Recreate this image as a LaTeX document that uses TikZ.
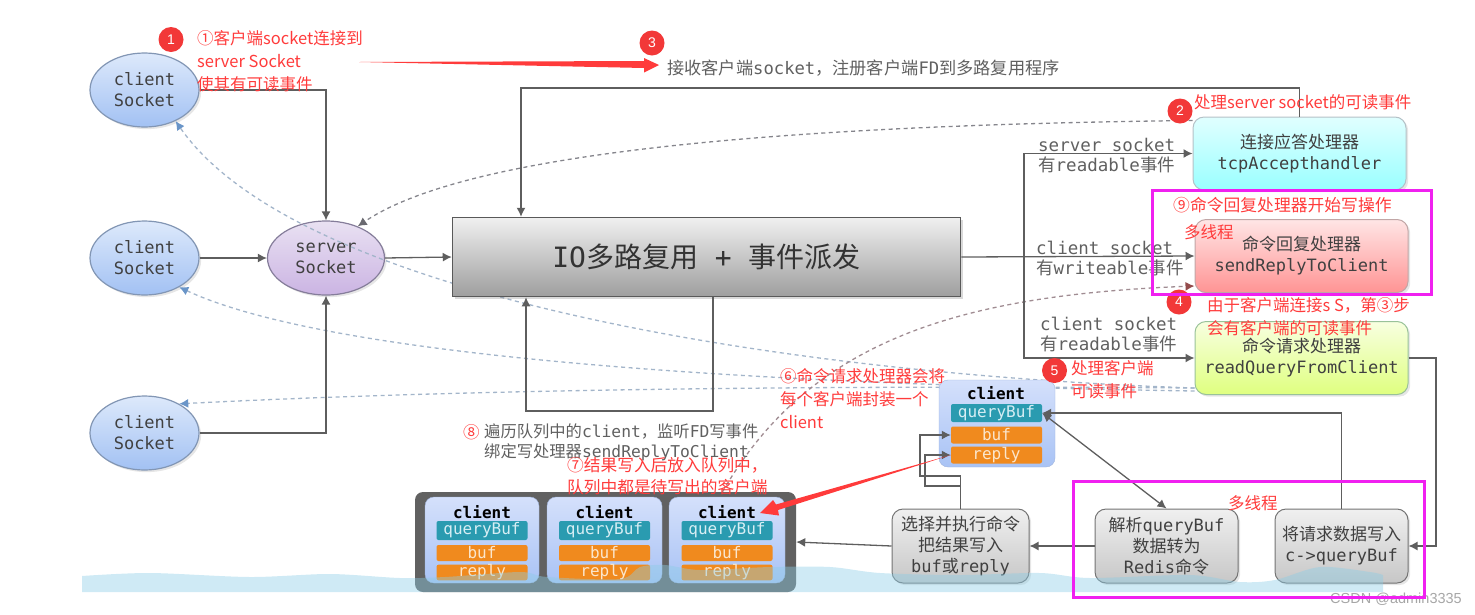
\documentclass[tikz,border=0pt]{standalone}
\usepackage{fontspec}
\usetikzlibrary{shapes.geometric,shadows,arrows.meta,calc}
\setmonofont{DejaVu Sans Mono}
\setsansfont{Liberation Sans}
\newfontfamily\cjk{Noto Sans CJK SC}
\definecolor{redc}{HTML}{FF3B3B}
\definecolor{linec}{HTML}{5E5E5E}
\definecolor{textc}{HTML}{606060}
\definecolor{magc}{HTML}{F020F0}
\definecolor{tealc}{HTML}{2A9BB0}
\definecolor{tealt}{HTML}{D6EEF4}
\definecolor{orgc}{HTML}{F08A1E}
\definecolor{orgt}{HTML}{FBE6CC}
\definecolor{dashb}{HTML}{A3B5CA}
\definecolor{tipb}{HTML}{6A95C8}
\definecolor{dashg}{HTML}{85858C}
\definecolor{dashm}{HTML}{A08C92}
\definecolor{waterc}{HTML}{8CCDE6}
\begin{document}
\begin{tikzpicture}[x=1pt,y=-1pt,>={Latex[length=9pt,width=9pt]}]
      \useasboundingbox(0,0) rectangle (1475,614);
      \tikzset{T/.style = {font=\ttfamily\fontsize{17}{21}\selectfont, align=center, text=black!75}}
      \tikzset{C/.style = {shape=ellipse, draw={rgb,255:red,130;green,150;blue,180}, top color={rgb,255:red,221;green,233;blue,251}, bottom color={rgb,255:red,162;green,193;blue,243}, line width=1.2pt, inner sep=0pt, minimum width=109pt, minimum height=74pt, drop shadow={opacity=0.2}, T}}
      \tikzset{S/.style = {C, draw={rgb,255:red,133;green,125;blue,154}, top color={rgb,255:red,233;green,225;blue,242}, bottom color={rgb,255:red,203;green,180;blue,227}, minimum width=117pt}}
      \tikzset{H/.style = {shape=rectangle, rounded corners=11pt, minimum width=213pt, minimum height=73pt, inner sep=0pt, line width=1pt, drop shadow={opacity=0.2}, T}}
      \tikzset{G/.style = {H, draw=black!55, top color=black!6, bottom color=black!22, minimum height=74pt}}
      \tikzset{B/.style = {shape=rectangle, rounded corners=2pt, inner sep=0pt, minimum height=17pt, minimum width=91pt, font=\ttfamily\fontsize{16}{18}\selectfont}}
      \tikzset{Q/.style = {B, fill=tealc, text=tealt}}
      \tikzset{O/.style = {B, fill=orgc, text=orgt}}
      \tikzset{K/.style = {shape=rectangle, rounded corners=9pt, inner sep=0pt, draw={rgb,255:red,160;green,180;blue,220}, top color={rgb,255:red,212;green,224;blue,251}, bottom color={rgb,255:red,169;green,195;blue,245}}}
      \tikzset{L/.style = {anchor=west, inner sep=0pt, align=left, text=textc, font=\ttfamily\fontsize{17.5}{20}\selectfont}}
      \tikzset{R/.style = {anchor=west, inner sep=0pt, align=left, text=redc, font=\cjk\fontsize{16.5}{23}\selectfont}}
      \tikzset{N/.style = {shape=circle, fill=redc!95!black, text=white, inner sep=0pt, minimum size=25pt, font=\sffamily\fontsize{14}{14}\selectfont}}
      \tikzset{E/.style = {draw=linec,line width=1.3pt,->}}
      \tikzset{D/.style = {draw=#1,line width=1.3pt,dash pattern=on 4pt off 3.5pt,->}}
      \tikzset{M/.style = {draw=magc,line width=3pt}}
      %% handlers
      \node[H,draw=cyan!30!black!35,top color=cyan!12,bottom color=cyan!40](acc) at (1299.5,153.5) {{\cjk 连接应答处理器}\\tcpAccepthandler};
      \node[H,draw=red!30!black!35,top color=red!10,bottom color=red!42](rep) at (1301.5,256) {{\cjk 命令回复处理器}\\sendReplyToClient};
      \node[H,draw=green!40!black!40,top color=lime!12,bottom color=lime!50](rq) at (1301.5,358) {{\cjk 命令请求处理器}\\readQueryFromClient};
      %% clients and server
      \node[C](c1) at (144.5,90) {client\\Socket};
      \node[C](c2) at (144.5,258) {client\\Socket};
      \node[C](c3) at (144.5,433) {client\\Socket};
      \node[S](server) at (326,258) {server\\Socket};
      \node[shape=rectangle, rounded corners=8pt, fill=black!62, minimum width=381pt, minimum height=100pt, inner sep=0pt](queue) at (605.5,542) {};
      %% dashed events
      \draw[D=dashg,arrows={->[dashg!80!black]}]([yshift=-4pt]acc.north west) .. controls (800,125) and (470,150) .. (server.45);
      \draw[D=dashb,arrows={->[tipb]}]([yshift=7pt]rq.south west) .. controls (800,375) and (300,300) .. (c1.-45);
      \draw[D=dashb,arrows={->[tipb]}]([yshift=4pt]rq.south west) .. controls (800,385) and (340,362) .. (c2.-40);
      \draw[D=dashb,arrows={->[tipb]}]([yshift=7pt]rq.south west) .. controls (800,385) and (450,390) .. (c3.40);
      \draw[D=dashm,arrows={->[red!40!black!70]}]([xshift=117pt]queue.north) .. controls (810,340) and (960,295) .. ([yshift=7pt]rep.south west);
      %% main box
      \node[shape=rectangle, draw=black!65, line width=1.5pt, top color=black!6, bottom color=black!38, minimum width=508pt, minimum height=79pt, inner sep=0pt, drop shadow={opacity=0.3}, font=\ttfamily\fontsize{28}{30}\selectfont, text=black!80](io) at (706.5,257) {IO{\cjk 多路复用} + {\cjk 事件派发}};
      %% bottom boxes
      \node[G,minimum width=137pt](sel) at (960.5,546) {{\cjk 选择并执行命令}\\{\cjk 把结果写入}\\buf{\cjk 或}reply};
      \node[G,minimum width=143pt](pb) at (1166.5,546) {{\cjk 解析}queryBuf\\{\cjk 数据转为}\\Redis{\cjk 命令}};
      \node[G,minimum width=133pt](wb) at (1341.5,546) {{\cjk 将请求数据写入}\\c->queryBuf};
      %% client
      \node[K,minimum width=116pt,minimum height=87pt](card) at (997,423.5) {};
      \node[inner sep=0pt,font=\ttfamily\bfseries\fontsize{16}{18}\selectfont](title) at (996,393) {client};
      \node[Q,minimum height=18pt](qb) at (996.5,413) {queryBuf};
      \node[O](buf) at (996.5,435) {buf};
      \node[O](reply) at (996.5,455) {reply};
      %% queue of clients
      \node[K,minimum width=114pt,minimum height=86pt](card1) at (482,540) {};
      \node[K,minimum width=115pt,minimum height=86pt](card2) at (604.5,540) {};
      \node[K,minimum width=116pt,minimum height=86pt](card3) at (727,540) {};
      \node[inner sep=0pt,font=\ttfamily\bfseries\fontsize{16}{18}\selectfont](title1) at (482,512) {client};
      \node[inner sep=0pt,font=\ttfamily\bfseries\fontsize{16}{18}\selectfont](title2) at (604.5,512) {client};
      \node[inner sep=0pt,font=\ttfamily\bfseries\fontsize{16}{18}\selectfont](title3) at (727,512) {client};
      \node[Q,minimum height=19pt](qb1) at (482,530.5) {queryBuf};
      \node[Q,minimum height=19pt](qb2) at (604.5,530.5) {queryBuf};
      \node[Q,minimum height=19pt](qb3) at (727,530.5) {queryBuf};
      \node[O,minimum height=16pt](buf1) at (482,553) {buf};
      \node[O,minimum height=16pt](buf2) at (604.5,553) {buf};
      \node[O,minimum height=16pt](buf3) at (727,553) {buf};
      \node[O,minimum height=15pt](reply1) at (482,572.5) {reply};
      \node[O,minimum height=15pt](reply2) at (604.5,572.5) {reply};
      \node[O,minimum height=15pt](reply3) at (727,572.5) {reply};
      %% connectors
      \coordinate (tl) at (521,88);
      \coordinate (loopr) at (713,411);
      \coordinate (loopl) at (526,411);
      \coordinate (trunk) at (1024,257);
      \coordinate (rqr) at (1436,358);
      \coordinate (s1) at (920,476);
      \coordinate (s2) at (925,486);
      \draw[E](c1.east) -| (server.north);
      \draw[E](c2.east) -- (server.west);
      \draw[E](c3.east) -| (server.south);
      \draw[E](server.east) -- (io.west);
      \draw[E](acc.north) -- (acc.north |- tl) -- (tl) -- (tl |- io.north);
      \draw[E](loopr |- io.south) -- (loopr) -- (loopl) -- (loopl |- io.south);
      \draw[E](io.east) -- (rep.west);
      \draw[E](trunk) |- (acc.west);
      \draw[E](trunk) |- (rq.west);
      \draw[E](rq.east) -- (rqr) |- (wb.east);
      \draw[E](wb.north) |- (qb.east);
      \draw[E,<->](qb.east) -- (pb.north);
      \draw[E](pb.west) -- (sel.east);
      \draw[E](sel.west) -- (queue.east);
      \draw[E](sel.north) |- (s1) |- (buf.west);
      \draw[E](sel.north) |- (s2) |- (reply.west);
      %% water
      \fill[waterc,opacity=0.42] (82,592) -- plot[smooth,tension=0.5] coordinates {(82,576) (150,573) (250,577) (330,574) (400,578) (445,577) (520,572) (547,577) (620,579) (640,567) (665,565) (700,570) (770,567) (830,567) (880,573) (960,575) (1040,573) (1090,578) (1190,575) (1240,582) (1275,580) (1320,567) (1370,572) (1383,575)} -- (1383,592) -- cycle;
      %% gray labels
      \node[L,font=\ttfamily\fontsize{17.2}{20}\selectfont](recv) at (667,68) {{\cjk 接收客户端}socket{\cjk ，注册客户端}FD{\cjk 到多路复用程序}};
      \node[L](ls) at (1038,156) {server socket\\{\cjk 有}readable{\cjk 事件}};
      \node[L](lw) at (1036,259) {client socket\\{\cjk 有}writeable{\cjk 事件}};
      \node[L](lr) at (1040,335) {client socket\\{\cjk 有}readable{\cjk 事件}};
      \node[L,font=\ttfamily\fontsize{16.3}{20}\selectfont](ltrav) at (484,442) {{\cjk 遍历队列中的}client{\cjk ，监听}FD{\cjk 写事件}\\{\cjk 绑定写处理器}sendReplyToClient};
      %% red numbers and notes
      \node[N](n1) at (171,39.5) {1};
      \node[N](n2) at (1180,111) {2};
      \node[N](n3) at (652,43) {3};
      \node[N](n4) at (1179,302) {4};
      \node[N](n5) at (1054.5,370.5) {5};
      \node[R](t1) at (197,61.5) {①客户端socket连接到\\server Socket\\使其有可读事件};
      \node[R](t2) at (1194,102) {处理server socket的可读事件};
      \node[R,font=\cjk\fontsize{16.8}{23}\selectfont](t9) at (1173,205) {⑨命令回复处理器开始写操作};
      \node[R](tm1) at (1184,232) {多线程};
      \node[R](t4) at (1207,316.5) {由于客户端连接s S，第③步\\会有客户端的可读事件};
      \node[R](t5) at (1071,380) {处理客户端\\可读事件};
      \node[R](t6) at (780,399) {⑥命令请求处理器会将\\每个客户端封装一个\\client};
      \node[R](t8) at (463,432) {⑧};
      \node[R,font=\cjk\fontsize{16.7}{22}\selectfont](t7) at (567,476) {⑦结果写入后放入队列中，\\队列中都是待写出的客户端};
      \node[R](tm2) at (1228,503) {多线程};
      \node[anchor=west,inner sep=0pt,text=black!35,font=\sffamily\fontsize{14.5}{16}\selectfont](wm) at (1330,599) {CSDN @admin3335};
      %% big red arrows
      \coordinate (ta3) at (359,62);
      \coordinate (tip3) at (659,65);
      \fill[redc] (ta3) -- ($(tip3)+(-15,-4)$) -- ($(tip3)+(-15,-7)$) -- (tip3) -- ($(tip3)+(-15,7.5)$) -- ($(tip3)+(-15,3)$) -- cycle;
      \coordinate (tip7) at (760,513);
      \fill[redc] (reply.west) -- ($(tip7)+(16,-8.5)$) -- ($(tip7)+(13,-13)$) -- (tip7) -- ($(tip7)+(19,2.5)$) -- ($(tip7)+(18,-3)$) -- cycle;
      %% pink frames
      \draw[M](1152.5,190) rectangle (1431.5,294);
      \draw[M](1073.5,481) rectangle (1424.5,597);
    \end{tikzpicture}
\end{document}
